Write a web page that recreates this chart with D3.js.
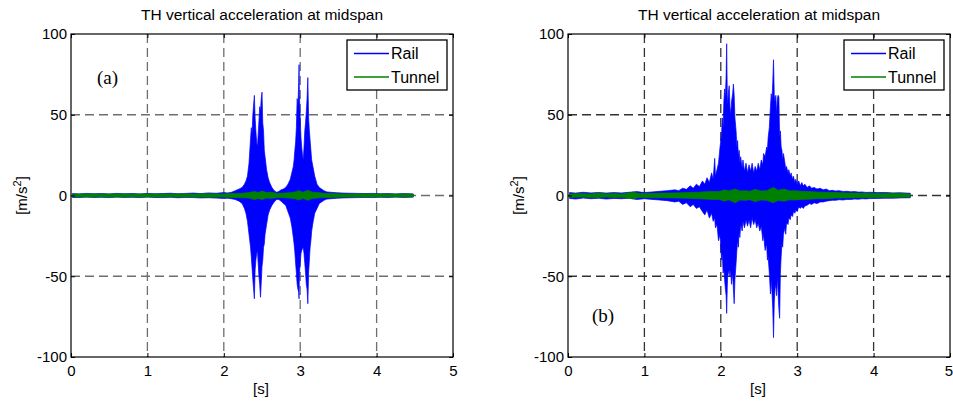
<!DOCTYPE html>
<html><head><meta charset="utf-8">
<script src="https://cdn.jsdelivr.net/npm/d3@7"></script>
<style>body{margin:0;background:#fff} svg{display:block}</style>
</head><body><svg id="c" width="953" height="403"></svg>
<script>
// ---------- shared axis data ----------
const xTicks = [0, 1, 2, 3, 4, 5];
const yTicks = [-100, -50, 0, 50, 100];
const titleText = "TH vertical acceleration at midspan";
const seriesNames = ["Rail", "Tunnel"];
const seriesColors = ["#0000ff", "#008000"];

// ---------- panel (a): Rail envelope (max / min per time) ----------
const railA_time = [0.02,0.1,0.2,0.3,0.4,0.5,0.6,0.7,0.8,0.9,1.0,1.1,1.2,1.3,1.4,1.5,1.6,1.7,1.8,1.9,2.0,2.05,
 2.10,2.15,2.20,2.24,2.27,2.29,2.31,2.33,2.35,2.36,2.37,2.38,2.39,2.40,2.41,2.42,2.43,2.44,2.45,2.46,2.47,2.48,2.49,2.50,
 2.51,2.52,2.53,2.54,2.56,2.58,2.60,2.63,2.66,2.69,2.72,2.75,2.78,2.81,2.84,2.87,2.89,2.91,2.92,2.93,2.94,2.95,2.96,2.97,
 2.98,2.985,2.99,3.00,3.01,3.02,3.03,3.04,3.05,3.06,3.07,3.08,3.09,3.10,3.11,3.12,3.13,3.14,3.15,3.17,3.19,3.22,3.25,3.28,
 3.31,3.35,3.40,3.48,3.56,3.65,3.75,3.85,3.95,4.05,4.15,4.25,4.35,4.48];
const railA_max = [1.2,1.0,1.3,1.1,1.2,1.0,1.3,1.1,1.2,1.0,1.3,1.1,1.2,1.4,1.1,1.3,1.5,1.2,1.6,1.4,1.8,1.6,
 2,3,4,5,7,9,12,20,35,42,38,50,56,62,48,40,33,30,38,46,55,52,60,64,
 45,40,28,24,16,11,8,5,3,2,2.5,3.5,4,5,7,10,14,18,22,28,33,42,60,55,
 70,81,62,48,36,30,25,22,30,40,45,52,60,73,48,40,34,28,22,17,12,7,5,4,
 3,2.2,2.0,1.7,1.5,1.4,1.3,1.2,1.3,1.1,1.2,1.0,1.2,1.0];
const railA_min = [-1.2,-1.3,-1.0,-1.2,-1.1,-1.3,-1.0,-1.2,-1.1,-1.3,-1.0,-1.2,-1.3,-1.1,-1.4,-1.2,-1.3,-1.5,-1.4,-1.6,-1.8,-1.7,
 -2,-2.5,-3.5,-5,-8,-11,-16,-24,-32,-38,-45,-52,-58,-64,-46,-40,-36,-34,-42,-50,-55,-63,-54,-44,
 -40,-32,-30,-24,-18,-12,-9,-6,-4,-2.5,-2.5,-3.5,-5,-6,-10,-14,-19,-26,-30,-35,-42,-48,-55,-58,
 -60,-64,-48,-42,-36,-34,-33,-32,-36,-42,-48,-55,-58,-67,-48,-40,-32,-28,-22,-16,-11,-8,-5,-4,
 -3,-2.2,-2.0,-1.7,-1.5,-1.4,-1.3,-1.2,-1.3,-1.1,-1.2,-1.0,-1.2,-1.0];

// ---------- panel (a): Tunnel envelope ----------
const tunnelA_time = [0.02,0.2,0.4,0.6,0.8,1.0,1.2,1.4,1.6,1.8,1.95,2.1,2.25,2.33,2.4,2.45,2.5,2.56,2.62,2.7,2.8,2.88,2.93,2.98,3.04,3.1,3.16,3.24,3.3,3.4,3.6,3.8,4.0,4.2,4.4,4.48];
const tunnelA_max = [0.9,1.0,0.9,1.0,0.9,1.0,0.9,1.0,1.0,1.1,1.0,1.2,1.4,1.8,2.5,1.8,2.8,1.8,2.0,1.3,1.5,1.8,2.2,3.0,2.0,3.2,2.0,1.8,1.4,1.2,1.0,1.0,1.0,0.9,1.0,0.9];
const tunnelA_min = [-0.9,-1.0,-0.9,-1.0,-0.9,-1.0,-0.9,-1.0,-1.0,-1.1,-1.0,-1.2,-1.4,-1.6,-2.5,-1.8,-2.5,-1.6,-1.8,-1.3,-1.4,-1.7,-2.0,-2.8,-1.8,-3.0,-1.8,-1.5,-1.3,-1.2,-1.0,-1.0,-1.0,-0.9,-1.0,-0.9];

// ---------- panel (b): Rail envelope ----------
const railB_time = [0.02,0.1,0.2,0.3,0.4,0.5,0.6,0.7,0.8,0.9,1.0,1.1,1.2,1.3,1.4,1.45,1.5,1.55,1.6,1.64,1.68,1.72,1.76,1.79,1.82,1.85,1.88,1.90,1.92,1.93,1.95,1.97,1.99,
 2.01,2.02,2.03,2.04,2.05,2.06,2.07,2.077,2.085,2.09,2.10,2.11,2.12,2.13,2.14,2.155,2.165,2.175,2.185,2.20,2.21,2.22,2.23,2.24,2.25,2.26,2.28,2.29,2.31,2.33,2.35,2.37,2.39,
 2.41,2.43,2.45,2.47,2.49,2.51,2.53,2.55,2.56,2.58,2.60,2.61,2.62,2.635,2.65,2.66,2.67,2.68,2.69,2.70,2.71,2.72,2.73,2.74,2.75,2.76,2.77,2.78,2.79,2.80,2.81,2.82,2.84,2.85,2.86,2.88,2.89,
 2.91,2.92,2.94,2.95,2.97,2.98,3.00,3.02,3.04,3.06,3.08,3.10,3.13,3.16,3.19,3.22,3.26,3.30,3.34,3.38,3.42,3.46,3.50,3.55,3.60,3.65,3.70,3.75,3.80,3.85,3.90,3.95,4.05,4.15,4.25,4.35,4.48];
const railB_max = [1.8,1.5,2.0,1.6,1.9,1.5,1.8,1.6,2.0,2.4,1.8,2.2,2.6,3.0,3.5,3.0,4.5,3.8,6,4.5,7,5.5,9,7,11,8,14,10,23,12,16,20,30,
 38,48,42,58,66,60,75,94,62,56,64,68,55,50,58,63,69,62,48,40,30,34,24,28,20,24,17,22,15,20,14,19,15,
 20,14,18,15,20,16,22,19,26,24,30,28,36,42,55,63,58,70,84,62,58,62,50,60,62,61,36,40,30,28,22,26,20,16,18,14,16,
 12,14,10,12,8,10,7,9,6,8,6,7,5,6,4.5,5,4,4.5,3.5,4,3,3.2,2.8,3,2.5,2.6,2.3,2.4,2.1,2.2,1.9,2.0,1.8,1.9,1.6,1.7,1.4];
const railB_min = [-1.8,-2.2,-1.6,-2.0,-1.7,-2.2,-1.8,-2.0,-1.7,-2.5,-2.0,-2.4,-2.8,-3.2,-4,-3.5,-5.5,-4.5,-7,-5.5,-8,-7,-10,-12,-9,-14,-11,-16,-14,-20,-18,-28,-24,
 -40,-36,-48,-45,-52,-58,-62,-73,-56,-50,-48,-46,-50,-46,-55,-48,-58,-67,-52,-42,-34,-28,-32,-22,-26,-18,-22,-16,-20,-15,-19,-15,-20,
 -14,-18,-15,-20,-17,-22,-19,-28,-24,-34,-30,-40,-38,-48,-61,-52,-60,-70,-88,-66,-58,-55,-62,-50,-60,-70,-76,-48,-38,-30,-32,-24,-20,-24,-17,-18,-14,
 -15,-12,-13,-10,-11,-9,-10,-7,-8,-7,-8,-6.5,-6,-5,-5.5,-4.5,-5,-4,-4,-3.5,-3.2,-3,-3,-2.6,-2.8,-2.4,-2.5,-2.2,-2.3,-2,-2.1,-1.9,-1.8,-1.7,-1.7,-1.5,-1.4];

// ---------- panel (b): Tunnel envelope ----------
const tunnelB_time = [0.02,0.15,0.3,0.4,0.5,0.6,0.7,0.85,0.95,1.1,1.25,1.4,1.55,1.7,1.8,1.9,1.98,2.05,2.1,2.19,2.25,2.32,2.38,2.45,2.52,2.6,2.69,2.75,2.83,2.9,2.97,3.05,3.15,3.25,3.35,3.5,3.65,3.8,3.95,4.1,4.25,4.4,4.48];
const tunnelB_max = [1.0,1.2,1.0,1.5,1.1,1.3,1.0,2.0,1.2,1.3,1.5,1.6,1.8,2.0,2.3,2.5,2.4,3.5,2.8,4.0,2.8,3.0,2.6,3.8,2.8,3.0,5.0,3.2,4.0,2.8,3.0,2.6,2.4,2.2,2.0,1.8,1.6,1.5,1.4,1.3,1.4,1.2,1.0];
const tunnelB_min = [-1.2,-1.0,-1.3,-1.2,-1.0,-1.3,-1.1,-2.0,-1.2,-1.4,-1.4,-1.5,-1.7,-2.0,-2.2,-2.5,-2.4,-3.5,-2.6,-4.5,-2.8,-3.0,-2.6,-3.8,-2.8,-3.0,-4.5,-3.0,-3.5,-2.6,-2.8,-2.4,-2.3,-2.0,-2.0,-1.6,-1.5,-1.4,-1.3,-1.2,-1.2,-1.1,-1.0];

// ---------- drawing ----------
const svg = d3.select("#c");
const PW = 382, TOP = 34, BOT = 357;
const FONT = "Liberation Sans, Arial, sans-serif";
const fmt = d => String(d);

function zip(t, hi, lo) { return t.map((v, i) => ({t: v, hi: hi[i], lo: lo[i]})); }

function panel(cfg) {
  const L = cfg.left;
  const x = d3.scaleLinear().domain([0, 5]).range([L, L + PW]);
  const y = d3.scaleLinear().domain([-100, 100]).range([BOT, TOP]);
  const g = svg.append("g");

  // grid
  const grid = g.append("g").attr("stroke", cfg.gridColor).attr("stroke-width", 1.3)
    .attr("stroke-dasharray", "9,5").attr("fill", "none");
  grid.selectAll(".gx").data(xTicks.slice(1, -1)).join("line")
    .attr("x1", d => x(d)).attr("x2", d => x(d)).attr("y1", TOP).attr("y2", BOT);
  grid.selectAll(".gy").data(yTicks.slice(1, -1)).join("line")
    .attr("x1", L).attr("x2", L + PW).attr("y1", d => y(d)).attr("y2", d => y(d));

  // series
  const area = d3.area().x(d => x(d.t)).y0(d => y(d.lo)).y1(d => y(d.hi));
  cfg.series.forEach((s, i) => {
    g.append("path").datum(zip(s.t, s.hi, s.lo)).attr("d", area)
      .attr("fill", seriesColors[i]).attr("stroke", seriesColors[i]).attr("stroke-width", 0.7)
      .attr("stroke-linejoin", "miter");
  });

  // axes
  const ax = (gen, tx, ty) => g.append("g").attr("transform", `translate(${tx},${ty})`).call(gen)
    .call(s => s.select(".domain").remove())
    .call(s => s.selectAll("text").attr("font-family", FONT).attr("font-size", 15).attr("fill", "#000"))
    .call(s => s.selectAll("line").attr("stroke", "#000"));
  const bx = ax(d3.axisBottom(x).tickValues(xTicks).tickSizeInner(-4).tickSizeOuter(0).tickPadding(8).tickFormat(fmt), 0, BOT);
  if (L + PW > 945) bx.selectAll("text").filter(d => d === 5).attr("dx", -1.5);
  ax(d3.axisTop(x).tickValues(xTicks).tickSizeInner(-4).tickSizeOuter(0).tickFormat(""), 0, TOP);
  ax(d3.axisLeft(y).tickValues(yTicks).tickSizeInner(-4).tickSizeOuter(0).tickPadding(4).tickFormat(fmt), L, 0);
  ax(d3.axisRight(y).tickValues(yTicks).tickSizeInner(-4).tickSizeOuter(0).tickFormat(""), L + PW, 0);

  g.append("rect").attr("x", L).attr("y", TOP).attr("width", PW).attr("height", BOT - TOP)
    .attr("fill", "none").attr("stroke", "#000").attr("stroke-width", 1.2);

  // title + labels
  g.append("text").attr("x", L + PW / 2).attr("y", 20).attr("text-anchor", "middle")
    .attr("font-family", FONT).attr("font-size", 15.5).text(titleText);
  g.append("text").attr("x", L + PW / 2 - 1).attr("y", 394).attr("text-anchor", "middle")
    .attr("font-family", FONT).attr("font-size", 15).text("[s]");
  const yl = g.append("text").attr("transform", `translate(${L - 44},${(TOP + BOT) / 2}) rotate(-90)`)
    .attr("text-anchor", "middle").attr("font-family", FONT).attr("font-size", 15);
  yl.append("tspan").text("[m/s");
  yl.append("tspan").attr("font-size", 11).attr("dy", -6).text("2");
  yl.append("tspan").attr("dy", 6).text("]");

  // panel tag
  g.append("text").attr("x", L + cfg.tagX).attr("y", cfg.tagY).attr("font-family", "Liberation Serif, Times New Roman, serif")
    .attr("font-size", 19).text(cfg.tag);

  // legend
  const lx = L + 276, ly = 40;
  const lg = g.append("g");
  lg.append("rect").attr("x", lx).attr("y", ly).attr("width", 100).attr("height", 50)
    .attr("fill", "#fff").attr("stroke", "#000").attr("stroke-width", 1.3);
  seriesNames.forEach((n, i) => {
    const yy = ly + 13.5 + i * 23.5;
    lg.append("line").attr("x1", lx + 7).attr("x2", lx + 42).attr("y1", yy).attr("y2", yy)
      .attr("stroke", seriesColors[i]).attr("stroke-width", 1.3);
    lg.append("text").attr("x", lx + 44).attr("y", yy + 5.5).attr("font-family", FONT)
      .attr("font-size", 16).text(n);
  });
}

panel({left: 71, gridColor: "#6e6e6e", tag: "(a)", tagX: 26, tagY: 84,
  series: [{t: railA_time, hi: railA_max, lo: railA_min}, {t: tunnelA_time, hi: tunnelA_max, lo: tunnelA_min}]});
panel({left: 568, gridColor: "#333", tag: "(b)", tagX: 24, tagY: 322,
  series: [{t: railB_time, hi: railB_max, lo: railB_min}, {t: tunnelB_time, hi: tunnelB_max, lo: tunnelB_min}]});
</script></body></html>
